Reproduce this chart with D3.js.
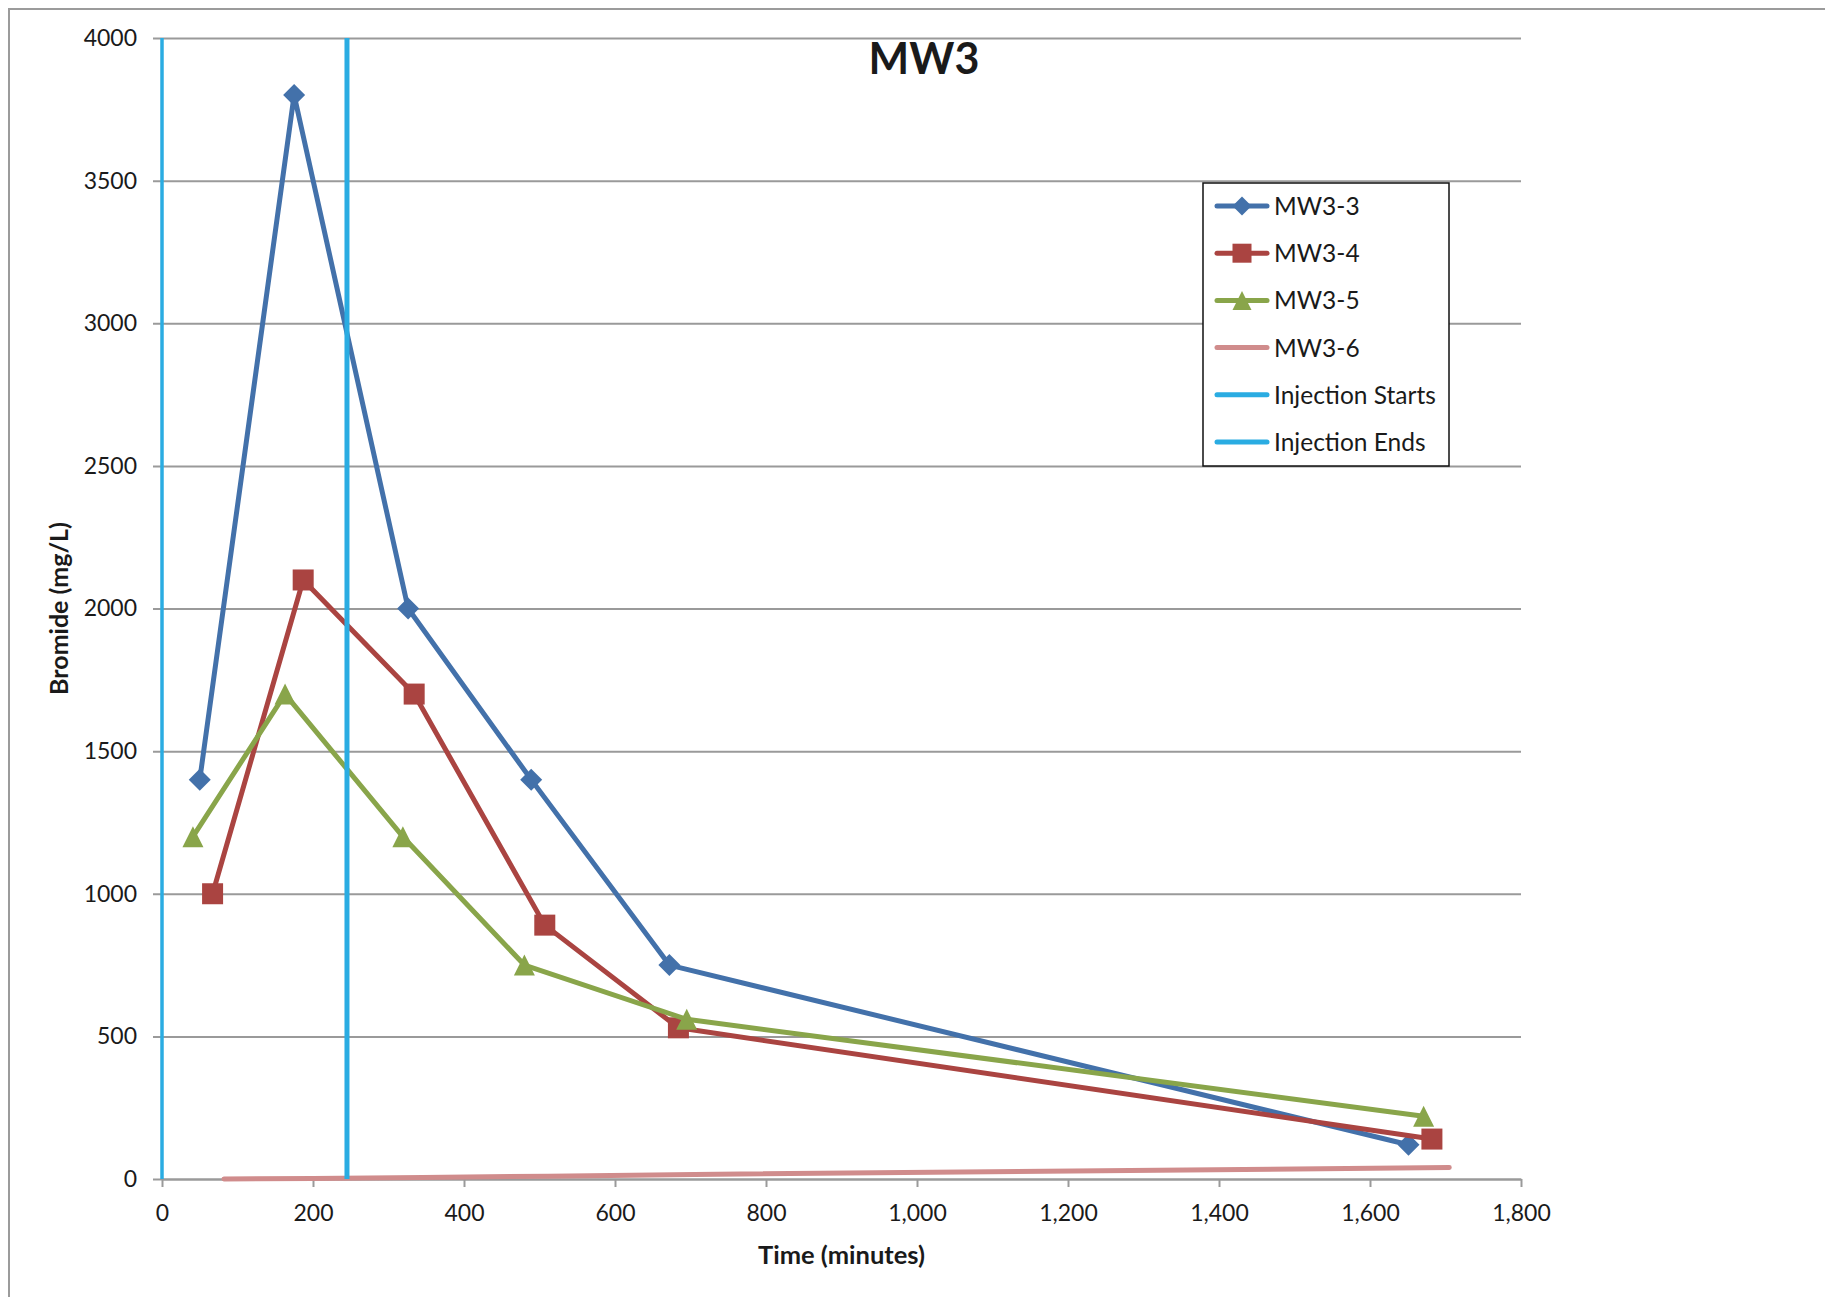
<!DOCTYPE html>
<html>
<head>
<meta charset="utf-8">
<script src="https://cdn.jsdelivr.net/npm/d3@7"></script>
<style>
  html, body { margin: 0; padding: 0; background: #fff; }
  svg { display: block; }
  text { font-family: Lato, "Open Sans", sans-serif; fill: #1a1a1a; }
</style>
</head>
<body>
<script>
// Bromide concentration at monitoring well MW3 over time
const xTicks = [0, 200, 400, 600, 800, 1000, 1200, 1400, 1600, 1800];
const yTicks = [0, 500, 1000, 1500, 2000, 2500, 3000, 3500, 4000];

const mw33Time = [50, 175, 326, 489, 672, 1651];
const mw33Br   = [1400, 3800, 2000, 1400, 750, 120];

const mw34Time = [67, 187, 334, 507, 684, 1682];
const mw34Br   = [1000, 2100, 1700, 890, 530, 140];

const mw35Time = [41, 163, 319, 480, 695, 1671];
const mw35Br   = [1200, 1700, 1200, 750, 560, 220];

const mw36Time = [82, 200, 345, 512, 705, 1705];
const mw36Br   = [0, 2, 5, 10, 16, 40];

const injectionStart = 0;
const injectionEnd = 245;

const seriesNames = ["MW3-3", "MW3-4", "MW3-5", "MW3-6", "Injection Starts", "Injection Ends"];

const W = 1825, H = 1297;
const plot = { left: 162, right: 1521, top: 38, bottom: 1179 };

const svg = d3.select("body").append("svg")
  .attr("width", W).attr("height", H);

// outer chart frame
svg.append("rect")
  .attr("x", 9).attr("y", 9)
  .attr("width", W + 40).attr("height", H + 40)
  .attr("fill", "none").attr("stroke", "#9b9b9b").attr("stroke-width", 2);

const x = d3.scaleLinear().domain([0, 1800]).range([plot.left, plot.right]);
const y = d3.scaleLinear().domain([0, 4000]).range([plot.bottom, plot.top]);

// horizontal gridlines with small outside ticks
const yAxis = svg.append("g")
  .attr("transform", `translate(${plot.left},0)`)
  .call(d3.axisLeft(y).tickValues(yTicks).tickSizeInner(-(plot.right - plot.left)).tickSizeOuter(0).tickPadding(24).tickFormat(d3.format("d")));
yAxis.select(".domain").remove();
yAxis.selectAll(".tick line")
  .attr("x1", -9)
  .attr("stroke", "#9a9a9a").attr("stroke-width", 2);
yAxis.selectAll(".tick text")
  .attr("x", -25)
  .style("font-size", "23px").style("font-family", "Lato, sans-serif").attr("fill", "#1a1a1a");

// bottom axis
const xAxis = svg.append("g")
  .attr("transform", `translate(0,${plot.bottom})`)
  .call(d3.axisBottom(x).tickValues(xTicks).tickSizeInner(8).tickSizeOuter(0).tickPadding(18).tickFormat(d3.format(",")));
xAxis.select(".domain").attr("stroke", "#9a9a9a").attr("stroke-width", 2);
xAxis.selectAll(".tick line").attr("stroke", "#9a9a9a").attr("stroke-width", 2);
xAxis.selectAll(".tick text")
  .style("font-size", "23px").style("font-family", "Lato, sans-serif").attr("fill", "#1a1a1a");

const line = d3.line().x(d => x(d[0])).y(d => y(d[1]));

const series = [
  { name: seriesNames[0], t: mw33Time, v: mw33Br, color: "#4371aa", marker: "diamond" },
  { name: seriesNames[1], t: mw34Time, v: mw34Br, color: "#aa4441", marker: "square" },
  { name: seriesNames[2], t: mw35Time, v: mw35Br, color: "#89a54a", marker: "triangle" },
  { name: seriesNames[3], t: mw36Time, v: mw36Br, color: "#d08c8c", marker: null }
];

function drawMarker(g, kind, cx, cy, color, s) {
  if (kind === "diamond") {
    g.append("path")
      .attr("d", `M${cx},${cy - s}L${cx + s},${cy}L${cx},${cy + s}L${cx - s},${cy}Z`)
      .attr("fill", color);
  } else if (kind === "square") {
    g.append("rect")
      .attr("x", cx - s).attr("y", cy - s).attr("width", 2 * s).attr("height", 2 * s)
      .attr("fill", color);
  } else if (kind === "triangle") {
    g.append("path")
      .attr("d", `M${cx},${cy - s}L${cx + s},${cy + s}L${cx - s},${cy + s}Z`)
      .attr("fill", color);
  }
}

const marks = svg.append("g");
series.forEach(s => {
  const pts = s.t.map((t, i) => [t, s.v[i]]);
  const g = marks.append("g");
  g.append("path")
    .attr("d", line(pts))
    .attr("fill", "none").attr("stroke", s.color)
    .attr("stroke-width", 5)
    .attr("stroke-linejoin", "round").attr("stroke-linecap", "round");
  if (s.marker) {
    pts.forEach(p => drawMarker(g, s.marker, x(p[0]), y(p[1]), s.color, s.marker === "diamond" ? 11 : 10.5));
  }
});

// injection window markers
const injColor = "#2aace2";
svg.append("line")
  .attr("x1", x(injectionStart)).attr("x2", x(injectionStart))
  .attr("y1", y(0)).attr("y2", y(4000))
  .attr("stroke", injColor).attr("stroke-width", 3.5);
svg.append("line")
  .attr("x1", x(injectionEnd)).attr("x2", x(injectionEnd))
  .attr("y1", y(0)).attr("y2", y(4000))
  .attr("stroke", injColor).attr("stroke-width", 5);

// title
svg.append("text")
  .attr("x", 924).attr("y", 74)
  .attr("text-anchor", "middle")
  .style("font-size", "43px").style("font-weight", "bold")
  .text("MW3");

// axis titles
svg.append("text")
  .attr("x", (plot.left + plot.right) / 2).attr("y", 1264)
  .attr("text-anchor", "middle")
  .style("font-size", "25.5px").style("font-weight", "bold")
  .text("Time (minutes)");

svg.append("text")
  .attr("transform", `translate(68,${(plot.top + plot.bottom) / 2}) rotate(-90)`)
  .attr("text-anchor", "middle")
  .style("font-size", "25px").style("font-weight", "bold")
  .text("Bromide (mg/L)");

// legend
const legend = svg.append("g");
legend.append("rect")
  .attr("x", 1203).attr("y", 183).attr("width", 246).attr("height", 283)
  .attr("fill", "#fff").attr("stroke", "#111").attr("stroke-width", 1.5);

const legendItems = [
  { name: seriesNames[0], color: "#4371aa", marker: "diamond" },
  { name: seriesNames[1], color: "#aa4441", marker: "square" },
  { name: seriesNames[2], color: "#89a54a", marker: "triangle" },
  { name: seriesNames[3], color: "#d08c8c", marker: null },
  { name: seriesNames[4], color: injColor, marker: null },
  { name: seriesNames[5], color: injColor, marker: null }
];
legendItems.forEach((it, i) => {
  const cy = 206 + i * 47.2;
  const g = legend.append("g");
  g.append("line")
    .attr("x1", 1217).attr("x2", 1267).attr("y1", cy).attr("y2", cy)
    .attr("stroke", it.color).attr("stroke-width", 5).attr("stroke-linecap", "round");
  if (it.marker) drawMarker(g, it.marker, 1242, cy, it.color, 9.5);
  g.append("text")
    .attr("x", 1274).attr("y", cy + 9)
    .style("font-size", "24.5px")
    .text(it.name);
});
</script>
</body>
</html>
